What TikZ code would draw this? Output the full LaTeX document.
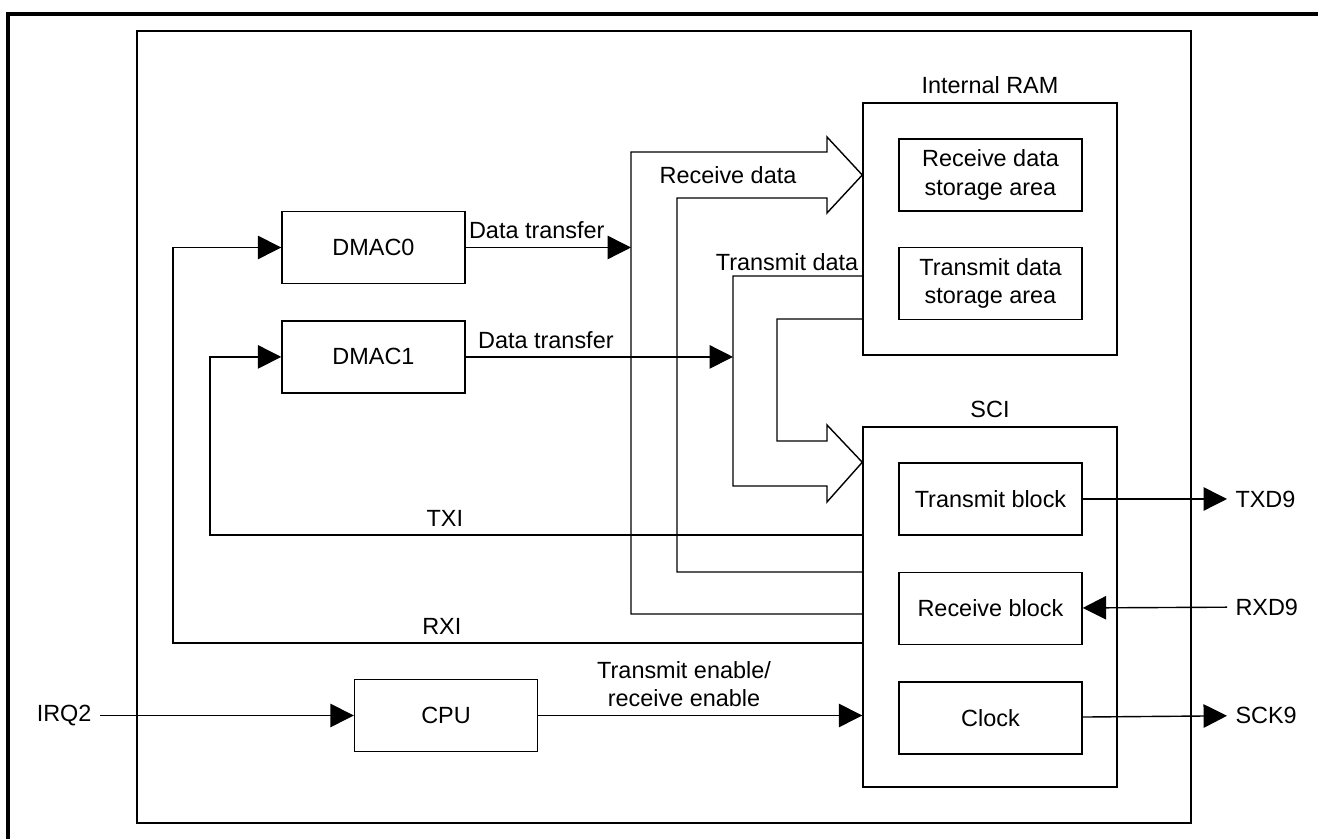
\documentclass[tikz,border=0pt]{standalone}
\usepackage{fontspec}
\setmainfont{Liberation Sans}
\usetikzlibrary{arrows.meta,positioning}

\begin{document}
\begin{tikzpicture}[
        x=0.015cm, y=-0.015cm,
        node distance=0.54cm,
        every node/.style={font=\fontsize{10}{12}\selectfont, align=center},
        every path/.style={line width=0.6pt},
        block/.style={draw, minimum width=2.745cm, minimum height=1.08cm},
        unit/.style={draw, minimum width=3.81cm},
        >={Triangle[length=10pt, width=10pt]}
    ]

  \useasboundingbox (0,0) rectangle (1318,839);

  % Frames
  \draw[line width=1.7pt] (8,839) -- (8,14) -- (1318,14);
  \draw[line width=0.85pt] (137,31) rectangle (1191,823);

  % Nodes
  \node (ram) [unit, minimum height=3.78cm] at (990,229) {};
  \node (ramlbl) [above=0pt of ram] {Internal RAM};
  \node (rxarea) [block] at (990.5,175) {Receive data\\storage area};
  \node (txarea) [block, below=0.525cm of rxarea] {Transmit data\\storage area};

  \node (sci) [unit, minimum height=5.4cm] at (990,607) {};
  \node (scilbl) [above=0pt of sci] {SCI};
  \node (txblk) [block] at (990.5,499) {Transmit block};
  \node (rxblk) [block, below=of txblk] {Receive block};
  \node (clk) [block, below=of rxblk] {Clock};

  \node (dmac0) [block] at (373.5,247.5) {DMAC0};
  \node (dmac1) [block, below=of dmac0] {DMAC1};
  \node (cpu) [block] at (446,715.5) {CPU};

  \node (irq) [anchor=east] at (100,715.5) {IRQ2};
  \node (txd) [anchor=west] at (1227,499) {TXD9};
  \node (rxd) [anchor=west] at (1227,607) {RXD9};
  \node (sck) [anchor=west] at (1227,715.5) {SCK9};

  \coordinate (rxbend) at (631,152);
  \coordinate (txbend) at (733,276);
  \coordinate (txi) at (210,535);
  \coordinate (rxi) at (173,643);

  % Data paths
  \draw (863,614) -- (631,614) -- (rxbend) -- (827,152) -- (827,137)
        -- (ram.west |- rxarea) -- (827,213) -- (827,198) -- (677,198)
        -- (677,572) -- (863,572);
  \node (rxlbl) at (728,175) {Receive data};

  \draw (863,319) -- (777,319) -- (777,441) -- (827,441) -- (827,425)
        -- (sci.west |- txblk.north) -- (827,502) -- (827,486) -- (733,486)
        -- (txbend) -- (863,276);
  \node (txlbl) at (787,262) {Transmit data};

  \draw[->] (dmac0) -- node[above, pos=0.43] {Data transfer} (dmac0 -| rxbend);
  \draw[->] (dmac1) -- node[above, pos=0.3] {Data transfer} (dmac1 -| txbend);

  % Interrupts
  \draw[->] (sci.west |- txi) -- node[above, pos=0.64] {TXI} (txi) |- (dmac1);
  \draw[->] (sci.west |- rxi) -- node[above, pos=0.61] {RXI} (rxi) |- (dmac0);

  % Control and pins
  \draw[->] (irq) -- (cpu);
  \draw[->] (cpu) -- node[above, pos=0.45] {Transmit enable/\\receive enable} (cpu -| sci.west);
  \draw[->] (txblk) -- (txd);
  \draw[->] (rxd) -- (rxblk);
  \draw[->] (clk) -- (sck);
\end{tikzpicture}
\end{document}
